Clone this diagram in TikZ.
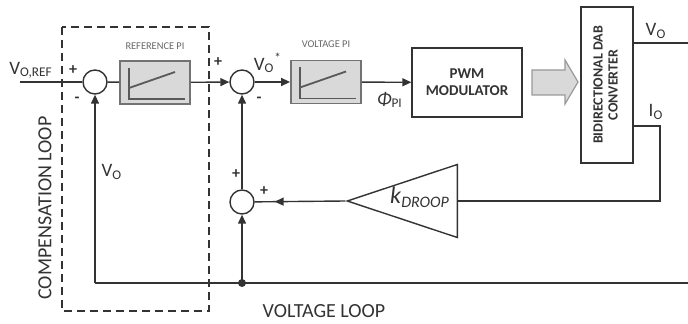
\documentclass[tikz,border=0pt]{standalone}
\usepackage{fontspec}
\setmainfont{Carlito}
\usetikzlibrary{arrows.meta, positioning, shapes.geometric, decorations.markings, calc}

\begin{document}
\begin{tikzpicture}[x=0.5pt, y=-0.5pt, line width=0.7pt, color=black!80,
  >={Triangle[length=4.5pt,width=4pt]},
  sumnode/.style={circle, draw, minimum size=12pt, inner sep=0pt},
  piblock/.style={draw=black!55, fill=black!15, line width=0.9pt, minimum width=35pt, minimum height=21.5pt, inner sep=0pt},
  plainblock/.style={draw, font=\fontsize{7.5}{8.5}\selectfont\bfseries, align=center, inner sep=0pt},
  droopamp/.style={draw, isosceles triangle, isosceles triangle stretches, shape border rotate=180, minimum width=36.5pt, minimum height=55pt, inner sep=0pt},
  lbl/.style={font=\fontsize{9.5}{10}\selectfont},
  looplbl/.style={font=\fontsize{10}{11}\selectfont},
  sign/.style={font=\fontsize{8}{8}\selectfont\bfseries, inner sep=0pt},
  pititle/.style={font=\fontsize{5.2}{6}\selectfont, text=black!60},
  dashedbox/.style={dash pattern=on 4pt off 2.5pt},
  midarrow/.style={postaction={decorate}, decoration={markings, mark=at position 0.78 with {\arrow{>}}}}]
  \useasboundingbox (0,0) rectangle (688,324);

  % Summing points
  \node[sumnode] (s1) at (95,82) {};
  \node[sumnode] (s2) at (242,82) {};
  \node[sumnode] (s3) at (242,202) {};

  % Blocks
  \node[piblock] (rpi) at (155,82.5) {};
  \node[piblock] (vpi) at (326,82) {};
  \node[plainblock, minimum width=55pt, minimum height=34.5pt] (pwm) at (467,82.5) {PWM\\MODULATOR};
  \node[plainblock, minimum width=26pt, minimum height=78pt, font=\fontsize{7}{7.5}\selectfont\bfseries] (dab) at (607,85)
    {\rotatebox{90}{\begin{tabular}{@{}c@{}}BIDIRECTIONAL DAB\\CONVERTER\end{tabular}}};
  \node[droopamp, anchor=lower side] (droop) at (458,201) {};
  \node[font=\fontsize{12}{12}\selectfont] (droopk) at (420,197) {\textit{k}\textsubscript{\textit{DROOP}}};

  % PI symbols
  \foreach \b in {rpi, vpi} {
    \draw[line width=0.9pt, black!65] ([shift={(-26,-14.5)}]\b.center) -- ([shift={(-26,16.5)}]\b.center) -- ([shift={(30,16.5)}]\b.center);
    \draw[line width=0.9pt, black!65] ([shift={(-26,5.5)}]\b.center) -- ([shift={(20,-10.5)}]\b.center);
  }
  \node[pititle, above=1.5pt of rpi] (rpititle) {REFERENCE PI};
  \node[pititle, above=2.5pt of vpi] (vpititle) {VOLTAGE PI};

  % Forward path
  \coordinate (vref) at (20,82);
  \draw (vref) -- (s1);
  \draw (s1) -- (rpi);
  \draw[->] (rpi) -- (s2);
  \draw[->] (s2) -- (vpi);
  \draw[->] (vpi) -- (pwm);
  \draw[draw=black!40, fill=black!15, line width=0.6pt]
    (532,70) -- (565,70) -- (565,60) -- (578,82) -- (565,104) -- (565,95) -- (532,95) -- cycle;

  % Outputs and feedback
  \coordinate (vout) at (688,43);
  \coordinate (iout) at (660,126);
  \draw (dab.east |- vout) -- (vout);
  \draw (dab.east |- iout) -- (iout) |- (droop.lower side);
  \draw[midarrow] (droop.apex) -- (s3);
  \draw[->] (s3) -- (s2);
  \coordinate (vfb) at (688,283);
  \coordinate (fb) at (95,283);
  \coordinate (tap) at (242,283);
  \draw (vfb) -- (fb);
  \draw[->] (fb) -- (s1);
  \draw[->] (tap) -- (s3);
  \fill (tap) circle (2pt);

  % Compensation loop frame
  \draw[dashedbox] (62,27) rectangle (209,311);

  % Labels
  \node[lbl] (vreflbl) at (31,70) {V\textsubscript{O,REF}};
  \node[lbl] (vstar) at (268,63) {V\textsubscript{O}\textsuperscript{*}};
  \node[lbl] (philbl) at (390,100) {\textit{Φ}\textsubscript{PI}};
  \node[lbl] (volbl) at (656,31) {V\textsubscript{O}};
  \node[lbl] (iolbl) at (656,112) {I\textsubscript{O}};
  \node[lbl] (vofb) at (112,172) {V\textsubscript{O}};
  \node[looplbl, rotate=90] (complbl) at (45,208) {COMPENSATION LOOP};
  \node[looplbl] (vlooplbl) at (324,311) {VOLTAGE LOOP};

  % Signs
  \node[sign] at (73,70) {+};
  \node[sign] at (77,100) {-};
  \node[sign] at (218,62) {+};
  \node[sign] at (259,100) {-};
  \node[sign] at (236,174) {+};
  \node[sign] at (264,191) {+};
\end{tikzpicture}
\end{document}
